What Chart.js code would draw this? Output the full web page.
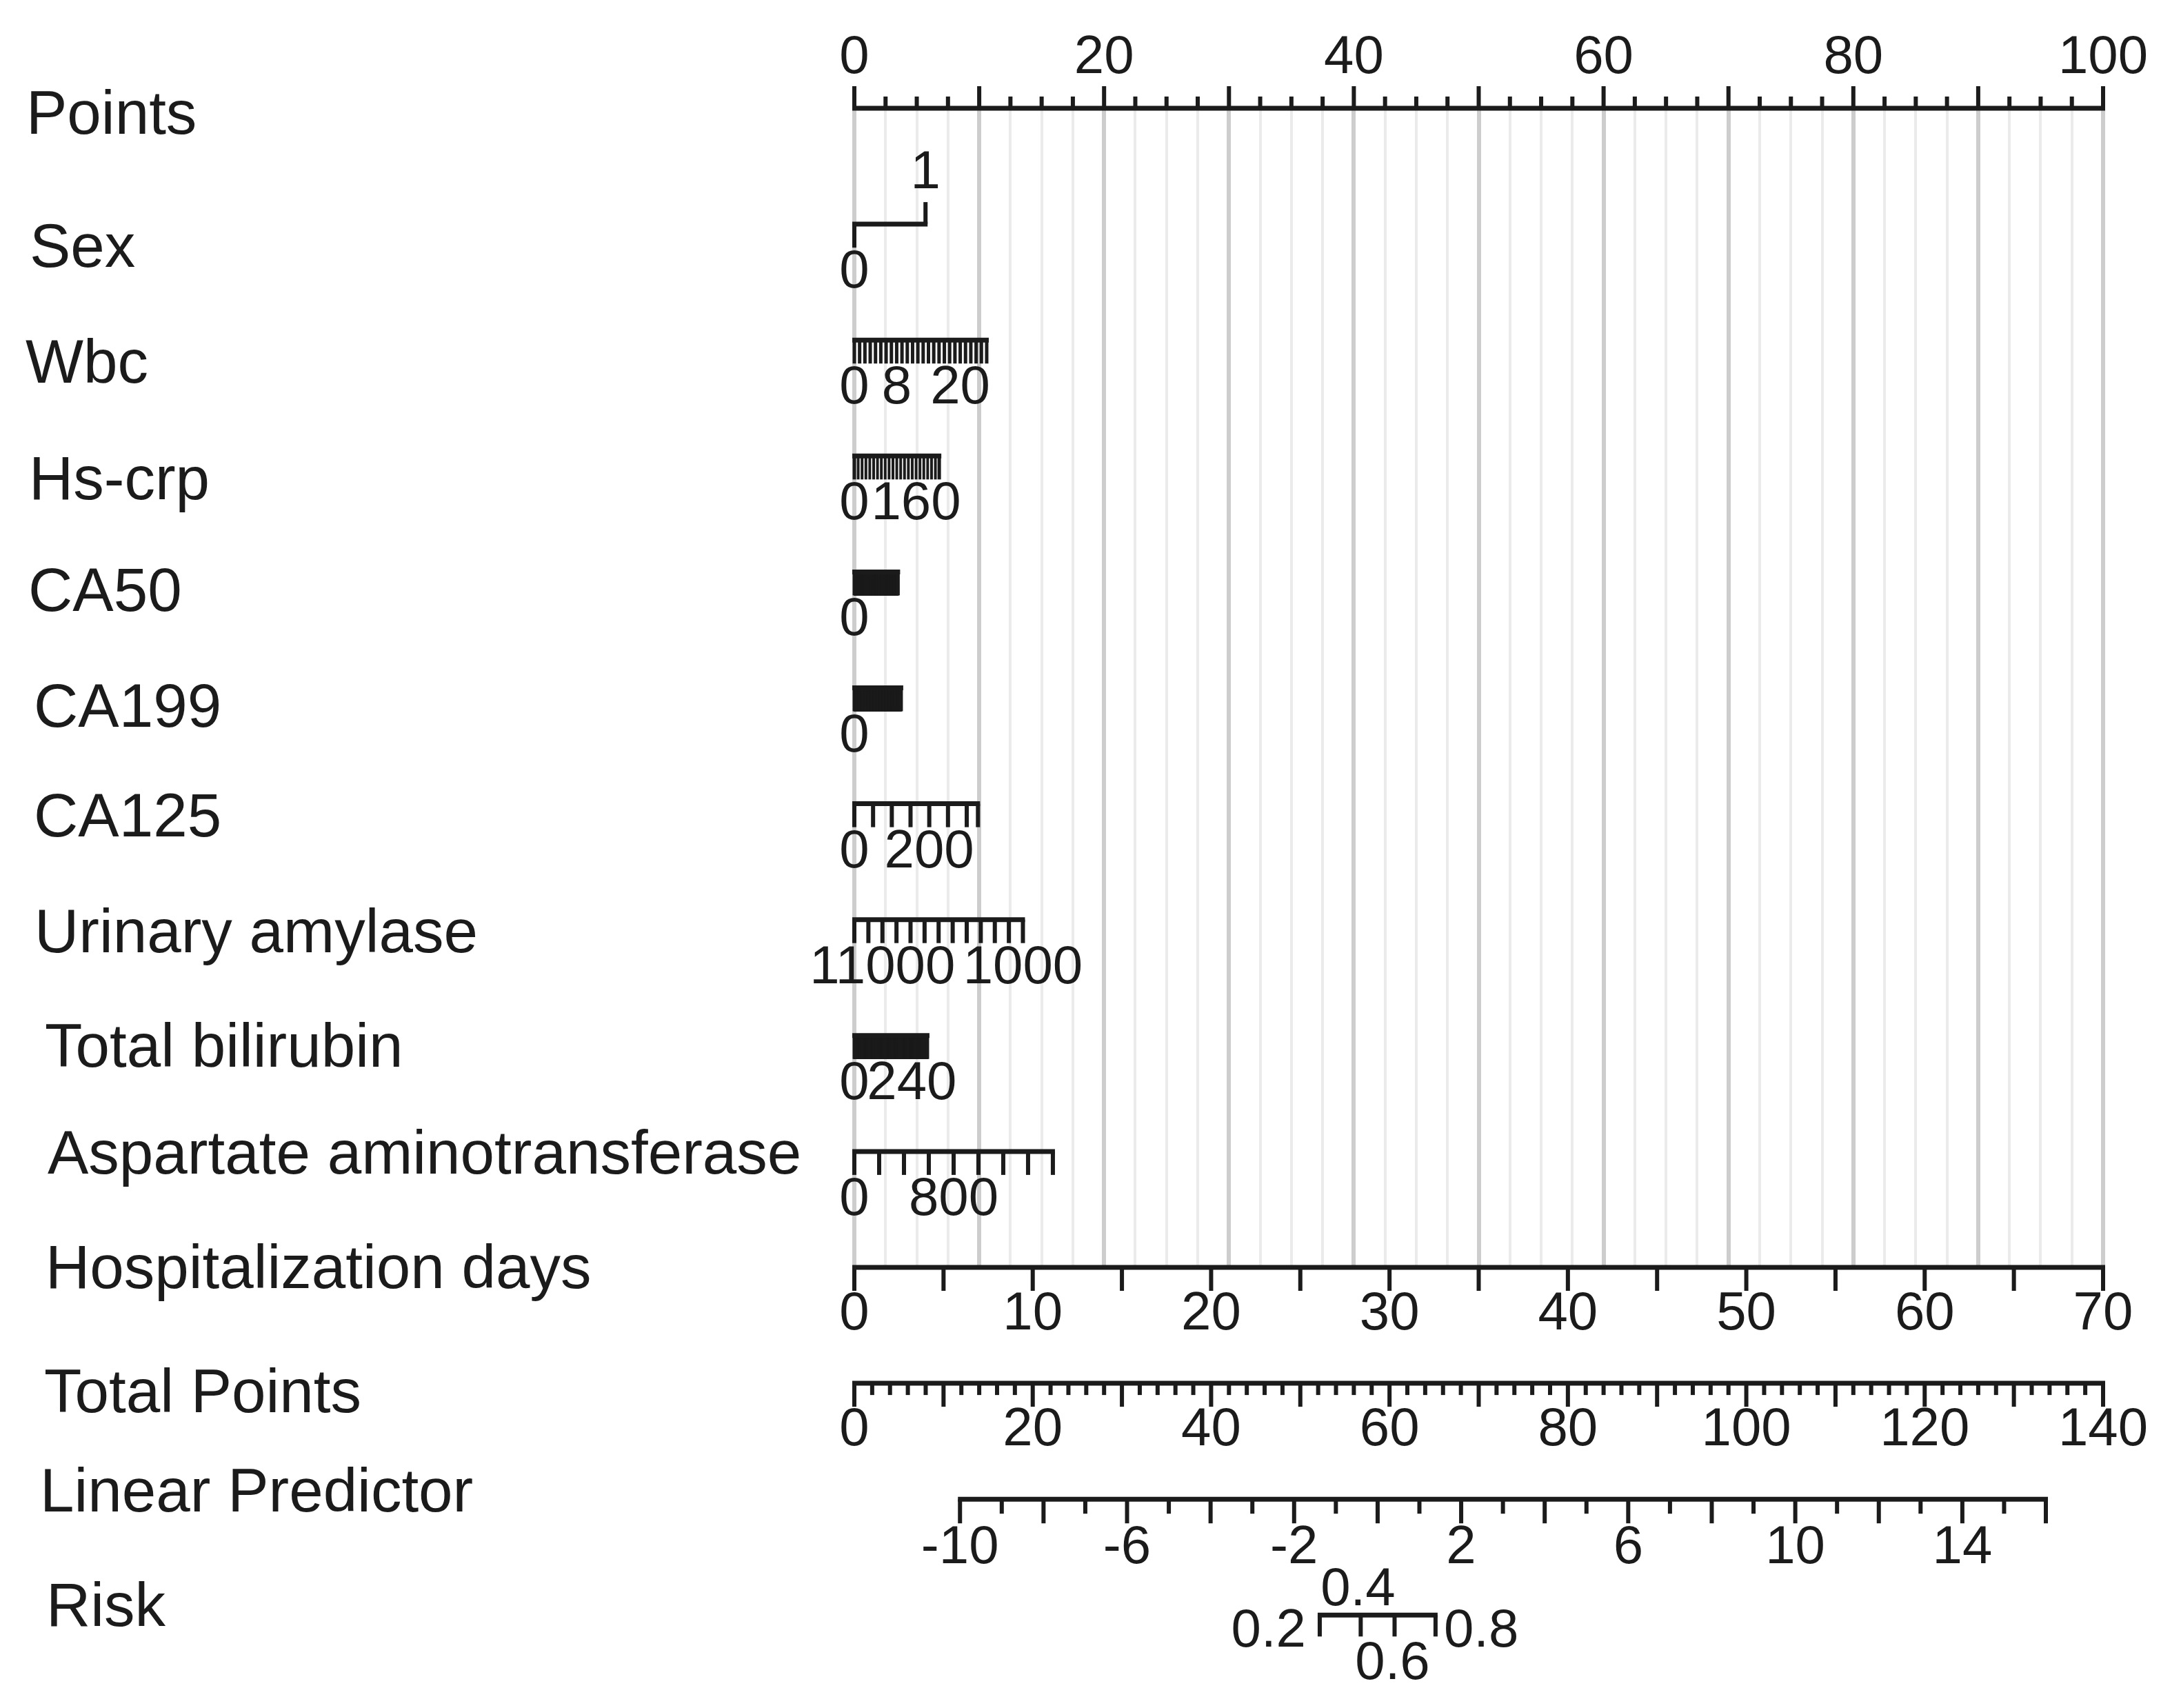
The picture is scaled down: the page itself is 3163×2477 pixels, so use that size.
<!DOCTYPE html>
<html>
<head>
<meta charset="utf-8">
<script src="https://cdn.jsdelivr.net/npm/chart.js@4.4.1/dist/chart.umd.min.js"></script>
<style>
  html, body { margin: 0; padding: 0; background: #fff; }
  canvas { display: block; }
</style>
</head>
<body>
<canvas id="nomogram" width="3163" height="2477"></canvas>
<script>
'use strict'

// ---- data ----
const rowTitles = ['Points', 'Sex', 'Wbc', 'Hs-crp', 'CA50', 'CA199', 'CA125', 'Urinary amylase',
  'Total bilirubin', 'Aspartate aminotransferase', 'Hospitalization days', 'Total Points',
  'Linear Predictor', 'Risk']

// predictor axes: value at 0 points, value at the far end, tick step, labelled values, points at the far end
const varKeys = ['sex', 'wbc', 'hscrp', 'ca50', 'ca199', 'ca125', 'amylase', 'tbil', 'ast']
const varFrom = [0, 0, 0, 0, 0, 0, 13000, 0, 0]
const varTo = [1, 25, 220, 500, 1000, 330, 1000, 305, 1600]
const varStep = [1, 1, 10, 2, 4, 50, 1000, 1, 200]
const varPoints = [5.7, 10.6, 6.8, 3.5, 3.75, 9.9, 13.5, 5.85, 15.9]
const varLabels = [[0, 1], [0, 8, 20], [0, 160], [0], [0], [0, 200], [11000, 1000], [0, 240], [0, 800]]
const sexUpper = [1]

const pointsRange = [0, 100]
const pointsStep = 2.5
const pointsMajor = 10
const pointsLabelStep = 20

const daysRange = [0, 70]
const daysStep = 5
const daysLabelStep = 10

const totalRange = [0, 140]
const totalStep = 2
const totalMajor = 10
const totalLabelStep = 20

const lpRange = [-10, 16]
const lpStep = 1
const lpLabels = [-10, -6, -2, 2, 6, 10, 14]
const lpAtPoints = [-12.53, 17.37] // linear predictor at 0 and at 100 points

const riskValues = [0.2, 0.4, 0.6, 0.8]

// ---- layout / style ----
const FONT = '"Liberation Sans", Arial, Helvetica, sans-serif'
const INK = '#1b1b1b'
const titleX = [38, 43, 37, 42, 41, 49, 49, 50, 65, 69, 66, 64, 58, 67]
const titleDy = [37, 62, 62, 63, 57, 56, 47, 47, 45, 32, 30, 42, 18, 16]
const riskSide = ['left', 'top', 'bottom', 'right']

function steps (from, to, step) {
  const dir = to >= from ? 1 : -1
  const n = Math.floor(Math.abs(to - from) / step + 1e-9)
  const out = []
  for (let i = 0; i <= n; i++) out.push(from + dir * i * step)
  if (Math.abs(out[out.length - 1] - to) > 1e-9) out.push(to)
  return out
}

const isMult = (v, m) => Math.abs(v / m - Math.round(v / m)) < 1e-6

const scales = {
  x: {
    type: 'linear',
    position: 'top',
    min: pointsRange[0],
    max: pointsRange[1],
    ticks: { display: false, stepSize: pointsStep },
    border: { display: false },
    grid: {
      drawTicks: false,
      color: (c) => (c.tick && isMult(c.tick.value, pointsMajor)) ? '#cdcdcd' : '#ebebeb',
      lineWidth: (c) => (c.tick && isMult(c.tick.value, pointsMajor)) ? 6 : 4
    }
  },
  y: { type: 'linear', display: false, min: 0, max: 10, reverse: true },
  days: { type: 'linear', axis: 'x', position: 'bottom', display: false, min: daysRange[0], max: daysRange[1] },
  total: { type: 'linear', axis: 'x', position: 'bottom', display: false, min: totalRange[0], max: totalRange[1] },
  lp: { type: 'linear', axis: 'x', position: 'bottom', display: false, min: lpAtPoints[0], max: lpAtPoints[1] }
}

varKeys.forEach((k, i) => {
  const far = varFrom[i] + (varTo[i] - varFrom[i]) * pointsRange[1] / varPoints[i]
  scales[k] = {
    type: 'linear',
    axis: 'x',
    position: 'bottom',
    display: false,
    min: Math.min(varFrom[i], far),
    max: Math.max(varFrom[i], far),
    reverse: far < varFrom[i]
  }
})

const nomogramPlugin = {
  id: 'nomogram',
  afterDraw (chart) {
    const { ctx } = chart
    const s = chart.scales
    const rowY = (r) => s.y.getPixelForValue(r)

    ctx.save()
    ctx.strokeStyle = INK
    ctx.fillStyle = INK
    ctx.lineCap = 'butt'

    const line = (scale, a, b, y) => {
      const xa = scale.getPixelForValue(a)
      const xb = scale.getPixelForValue(b)
      ctx.lineWidth = 7
      ctx.beginPath()
      ctx.moveTo(Math.min(xa, xb) - 3, y)
      ctx.lineTo(Math.max(xa, xb) + 3, y)
      ctx.stroke()
    }
    const tick = (scale, v, y, len, w) => {
      const x = scale.getPixelForValue(v)
      ctx.lineWidth = w
      ctx.beginPath()
      ctx.moveTo(x, y)
      ctx.lineTo(x, y + len)
      ctx.stroke()
    }
    const text = (str, x, cy, align) => {
      ctx.font = '78px ' + FONT
      ctx.textAlign = align || 'center'
      ctx.textBaseline = 'alphabetic'
      ctx.fillText(str, x, cy + 28)
    }

    // Points
    let y = rowY(0)
    steps(pointsRange[0], pointsRange[1], pointsStep).forEach((v) => {
      tick(s.x, v, y, isMult(v, pointsMajor) ? -32 : -17, 6)
      if (isMult(v, pointsLabelStep)) text(String(v), s.x.getPixelForValue(v), y - 79)
    })
    line(s.x, pointsRange[0], pointsRange[1], y)

    // predictors
    varKeys.forEach((k, i) => {
      const sc = s[k]
      const yy = rowY(i + 1)
      const tv = steps(varFrom[i], varTo[i], varStep[i])
      const gap = Math.abs(sc.getPixelForValue(tv[1]) - sc.getPixelForValue(tv[0]))
      const w = gap < 4 ? 3 : (gap < 7 ? 4 : (gap < 10 ? 5 : 6))
      tv.forEach((v) => {
        const up = k === 'sex' && sexUpper.includes(v)
        const edge = v === tv[0] || v === tv[tv.length - 1]
        tick(sc, v, yy, up ? -32 : 34, edge ? Math.max(w, 5) : w)
      })
      line(sc, varFrom[i], varTo[i], yy)
      varLabels[i].forEach((v) => {
        const up = k === 'sex' && sexUpper.includes(v)
        text(String(v), sc.getPixelForValue(v), up ? yy - 80 : yy + 64)
      })
    })

    // Hospitalization days
    y = rowY(10)
    steps(daysRange[0], daysRange[1], daysStep).forEach((v) => {
      tick(s.days, v, y, 34, 6)
      if (isMult(v, daysLabelStep)) text(String(v), s.days.getPixelForValue(v), y + 62)
    })
    line(s.days, daysRange[0], daysRange[1], y)

    // Total Points
    y = rowY(11)
    steps(totalRange[0], totalRange[1], totalStep).forEach((v) => {
      tick(s.total, v, y, isMult(v, totalMajor) ? 34 : 17, 6)
      if (isMult(v, totalLabelStep)) text(String(v), s.total.getPixelForValue(v), y + 62)
    })
    line(s.total, totalRange[0], totalRange[1], y)

    // Linear Predictor
    y = rowY(12)
    steps(lpRange[0], lpRange[1], lpStep).forEach((v) => {
      tick(s.lp, v, y, isMult(v, 2) ? 35 : 21, 6)
    })
    line(s.lp, lpRange[0], lpRange[1], y)
    lpLabels.forEach((v) => text(String(v), s.lp.getPixelForValue(v), y + 65))

    // Risk, placed on the linear predictor scale
    y = rowY(13)
    const logit = (p) => Math.log(p / (1 - p))
    riskValues.forEach((p) => tick(s.lp, logit(p), y, 31, 6))
    line(s.lp, logit(riskValues[0]), logit(riskValues[riskValues.length - 1]), y)
    riskValues.forEach((p, i) => {
      const x = s.lp.getPixelForValue(logit(p))
      const side = riskSide[i]
      if (side === 'left') text(String(p), x - 20, y + 18, 'right')
      else if (side === 'right') text(String(p), x + 12, y + 18, 'left')
      else if (side === 'top') text(String(p), x - 4, y - 42)
      else text(String(p), x - 3, y + 65)
    })

    // row titles
    ctx.font = '89px ' + FONT
    ctx.textAlign = 'left'
    ctx.textBaseline = 'alphabetic'
    rowTitles.forEach((t, i) => ctx.fillText(t, titleX[i], rowY(i) + titleDy[i]))

    ctx.restore()
  }
}

new Chart(document.getElementById('nomogram'), {
  type: 'scatter',
  data: { datasets: [] },
  options: {
    responsive: false,
    animation: false,
    devicePixelRatio: 1,
    events: [],
    layout: { padding: { left: 1239, right: 113, top: 157, bottom: 639 } },
    scales,
    plugins: { legend: { display: false }, tooltip: { enabled: false } }
  },
  plugins: [nomogramPlugin]
})
</script>
</body>
</html>
